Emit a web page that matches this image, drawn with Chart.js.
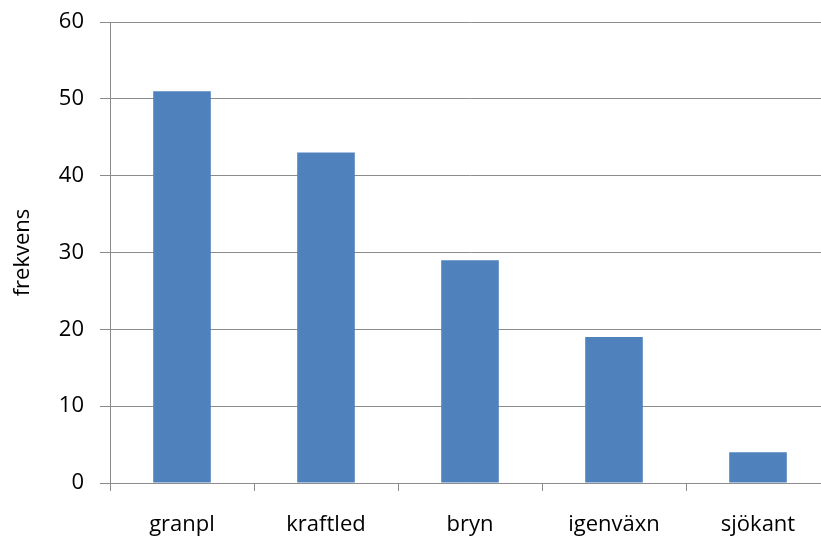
<!DOCTYPE html>
<html>
<head>
<meta charset="utf-8">
<script src="https://cdn.jsdelivr.net/npm/chart.js@4/dist/chart.umd.min.js"></script>
<style>
html,body{margin:0;padding:0;background:#fff;overflow:hidden;width:821px;height:538px;}
#wrap{position:absolute;left:0;top:0;width:840px;height:538px;}
</style>
</head>
<body>
<div id="wrap"><canvas id="c" width="840" height="538"></canvas></div>
<script>
const categories = ["granpl", "kraftled", "bryn", "igenväxn", "sjökant"];
const frekvens = [51, 43, 29, 19, 4];
const yTicks = [0, 10, 20, 30, 40, 50, 60];
const yTitle = "frekvens";

const gridCol = "#8c8c8c";
const fontFam = "'Open Sans', 'Noto Sans', sans-serif";

// keep the plot area at a fixed place
const fixArea = {
  id: "fixArea",
  afterLayout(chart) {
    const y = chart.scales.y;
    const top = 22, bottom = 483;
    chart.chartArea.top = top;
    chart.chartArea.bottom = bottom;
    chart.chartArea.height = bottom - top;
    y.top = top; y.bottom = bottom; y.height = bottom - top;
    y.configure();
  }
};

new Chart(document.getElementById("c"), {
  type: "bar",
  data: {
    labels: categories,
    datasets: [{
      data: frekvens,
      backgroundColor: "#4f81bd",
      borderWidth: 0,
      barPercentage: 0.4,
      categoryPercentage: 1.0
    }]
  },
  options: {
    responsive: false,
    animation: false,
    devicePixelRatio: 1,
    layout: { padding: { left: 0, right: 10, top: 22, bottom: 0 } },
    plugins: { legend: { display: false }, tooltip: { enabled: false } },
    scales: {
      x: {
        offset: true,
        grid: { offset: true, drawOnChartArea: false, drawTicks: true, tickLength: 8, color: gridCol, lineWidth: 1 },
        border: { display: true, color: gridCol, width: 1 },
        ticks: { color: "#000", font: { family: fontFam, size: 22 }, padding: 21, maxRotation: 0 },
        afterFit: (s) => { s.height = 55; }
      },
      y: {
        min: 0, max: 60,
        afterBuildTicks: (s) => { s.ticks = yTicks.map(v => ({ value: v })); },
        grid: { color: gridCol, lineWidth: 1, tickLength: 10, drawTicks: true },
        border: { display: true, color: gridCol, width: 1 },
        ticks: { color: "#000", font: { family: fontFam, size: 22 }, padding: 16 },
        title: { display: true, text: yTitle, color: "#000", font: { family: fontFam, size: 22 }, padding: { top: 10, bottom: 0 } },
        afterFit: (s) => { s.width = 110; }
      }
    }
  },
  plugins: [fixArea]
});
</script>
</body>
</html>
